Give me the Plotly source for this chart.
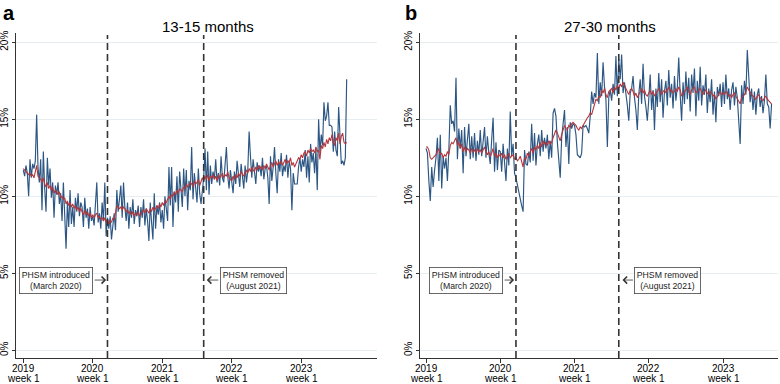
import plotly.graph_objects as go

# ---------------- data ----------------
weeks = list(range(243))                      # weekly index, 2019 week 1 = 0
tick_weeks = [0, 52, 104, 156, 208]
tick_years = ["2019", "2020", "2021", "2022", "2023"]
tick_sub = "week 1"
y_ticks = [0, 5, 10, 15, 20]
y_ticktext = ["0%", "5%", "10%", "15%", "20%"]
phsm_weeks = [63, 135]                        # PHSM introduced / removed

# Panel a: 13-15 months (weekly %, and smoothed %)
a_weekly = [
    11.7, 11.3, 12.0, 11.5, 10.0, 12.4, 11.2, 12.1, 11.8, 12.3, 15.3, 11.9, 10.9,
    12.4, 9.1, 12.9, 10.5, 9.0, 12.5, 10.7, 11.8, 9.9, 10.9, 8.6, 10.7, 10.1,
    10.9, 9.5, 10.2, 8.4, 10.9, 9.0, 6.6, 9.6, 8.0, 10.4, 8.2, 9.3, 8.0,
    9.9, 9.0, 10.2, 8.7, 9.6, 9.3, 8.0, 9.9, 8.6, 9.2, 7.9, 9.3, 8.4,
    8.7, 8.1, 9.4, 10.9, 8.3, 8.9, 7.9, 9.6, 8.4, 10.9, 7.4, 8.6, 7.9,
    8.7, 7.2, 8.3, 8.9, 7.8, 10.4, 9.0, 9.8, 10.7, 8.6, 10.9, 9.3, 8.4,
    9.6, 7.9, 9.3, 8.6, 9.8, 8.2, 9.1, 8.7, 9.4, 8.0, 9.3, 8.6, 9.8,
    8.1, 9.2, 8.4, 7.1, 9.6, 8.3, 7.2, 10.2, 7.9, 9.4, 8.8, 9.6, 8.3,
    9.1, 7.9, 10.0, 9.2, 8.4, 11.9, 9.4, 11.9, 8.0, 10.3, 9.6, 11.3, 9.0,
    11.6, 10.2, 9.3, 11.8, 10.0, 11.7, 9.1, 11.0, 10.4, 13.2, 9.8, 11.5, 10.6,
    9.6, 11.8, 10.2, 9.5, 10.3, 11.2, 13.1, 10.4, 12.9, 10.1, 12.0, 10.8, 11.6,
    11.1, 12.4, 10.9, 11.5, 10.7, 12.6, 11.2, 10.9, 11.8, 13.2, 11.3, 10.5, 11.7,
    11.0, 10.2, 11.6, 10.8, 12.3, 11.4, 10.6, 12.1, 11.1, 10.5, 12.0, 10.9, 11.7,
    14.2, 12.6, 11.2, 12.4, 11.5, 10.8, 12.2, 11.6, 12.0, 11.3, 12.5, 11.1, 11.8,
    12.0, 11.2, 9.5, 12.6, 11.0, 11.9, 13.2, 11.5, 10.2, 12.4, 11.6, 12.8, 11.3,
    12.0, 11.6, 12.7, 11.2, 12.3, 11.8, 9.1, 11.5, 10.8, 10.8, 10.8, 11.9, 12.5,
    11.6, 12.4, 11.9, 13.0, 11.2, 12.6, 10.9, 13.4, 12.2, 12.8, 11.5, 13.1, 10.4,
    15.0, 12.8, 14.0, 13.3, 16.1, 14.9, 15.2, 16.1, 14.6, 14.6, 14.5, 12.9, 14.2,
    13.0, 12.6, 15.8, 13.5, 12.1, 12.3, 12.0, 12.5, 17.6,
]
a_smooth = [
    11.8, 11.7, 11.6, 11.5, 11.4, 11.5, 11.3, 11.4, 11.2, 11.6, 12.0, 11.3, 11.2,
    11.1, 10.9, 11.2, 10.8, 10.6, 10.9, 10.5, 10.7, 10.4, 10.6, 10.2, 10.4, 10.3,
    10.1, 10.3, 9.9, 10.0, 9.8, 9.9, 9.5, 9.7, 9.4, 9.6, 9.3, 9.5, 9.2,
    9.4, 9.1, 9.3, 9.0, 9.2, 9.0, 8.8, 9.1, 8.8, 9.0, 8.7, 8.9, 8.6,
    8.8, 8.6, 8.8, 8.9, 8.6, 8.7, 8.5, 8.6, 8.4, 8.6, 8.3, 8.5, 8.2,
    8.4, 8.3, 8.6, 8.5, 9.0, 9.4, 9.3, 9.2, 9.3, 9.1, 9.3, 9.2, 9.0,
    9.1, 8.9, 9.0, 8.8, 9.0, 8.7, 8.9, 8.8, 9.0, 8.7, 8.9, 9.0, 9.1,
    8.9, 9.2, 9.0, 8.9, 9.2, 9.0, 9.3, 9.1, 9.2, 9.4, 9.2, 9.5, 9.3,
    9.6, 9.4, 9.7, 9.6, 9.8, 10.0, 9.8, 10.1, 10.0, 10.3, 10.1, 10.4, 10.2,
    10.5, 10.4, 10.3, 10.6, 10.5, 10.8, 10.6, 10.7, 10.9, 10.8, 10.6, 11.0, 10.8,
    10.9, 11.1, 10.7, 11.0, 11.2, 11.0, 11.3, 11.1, 11.4, 11.0, 11.3, 11.2, 11.4,
    11.1, 11.3, 11.0, 11.4, 11.2, 11.3, 11.5, 11.2, 11.4, 11.3, 11.6, 11.2, 11.1,
    11.0, 11.3, 11.1, 11.4, 11.2, 11.5, 11.3, 11.6, 11.4, 11.3, 11.5, 11.7, 11.5,
    11.8, 11.6, 11.9, 11.7, 11.6, 11.9, 11.7, 12.0, 11.8, 11.9, 11.7, 12.0, 11.8,
    12.1, 11.9, 11.7, 12.0, 12.2, 11.9, 12.1, 12.3, 12.0, 12.2, 12.1, 12.3, 12.0,
    12.2, 12.4, 12.1, 12.3, 12.2, 12.5, 12.0, 12.2, 11.9, 12.1, 12.3, 12.5, 12.4,
    12.7, 12.5, 12.8, 12.9, 12.6, 13.0, 12.8, 13.1, 12.9, 13.0, 12.8, 13.2, 12.9,
    13.0, 12.4, 13.3, 13.1, 13.5, 13.2, 13.7, 13.4, 13.8, 13.6, 14.0, 13.5, 13.3,
    13.8, 13.6, 14.1, 13.4, 13.9, 14.1, 13.5, 13.4, 13.5,
]

# Panel b: 27-30 months
b_weekly = [
    13.1, 12.8, 11.0, 9.7, 11.9, 10.6, 11.7, 12.5, 13.8, 11.0, 14.0, 10.5, 12.6,
    11.8, 12.5, 11.0, 13.0, 15.9, 14.7, 14.9, 14.2, 17.7, 12.4, 14.4, 13.1, 14.3,
    11.5, 14.5, 12.6, 13.5, 14.7, 12.4, 13.9, 12.5, 14.1, 12.3, 13.6, 12.7, 14.3,
    12.6, 13.6, 14.5, 12.5, 13.9, 12.8, 12.1, 13.7, 15.1, 11.6, 13.5, 11.7, 13.0,
    12.9, 11.6, 13.4, 12.2, 11.0, 13.1, 12.0, 15.5, 12.6, 13.4, 11.5, 11.2, 10.7,
    10.2, 9.7, 9.4, 9.0, 13.0, 12.1, 12.0, 12.9, 12.2, 14.7, 12.3, 14.1, 12.0,
    13.4, 14.0, 12.6, 14.3, 12.9, 13.8, 13.1, 14.0, 12.4, 13.6, 12.5, 15.4, 15.7,
    15.2, 13.5, 12.5, 11.2, 13.8, 14.6, 15.6, 13.2, 14.5, 12.1, 14.8, 14.4, 14.7,
    14.6, 14.0, 12.7, 12.6, 12.5, 12.8, 14.6, 14.5, 14.6, 14.4, 14.1, 15.2, 16.8,
    16.0, 16.7, 16.4, 19.3, 16.0, 17.4, 16.5, 18.7, 17.1, 16.3, 13.2, 16.4, 16.9,
    16.2, 17.3, 16.6, 19.1, 16.5, 18.9, 17.6, 19.2, 16.7, 17.4, 16.8, 15.9, 14.9,
    16.7, 17.0, 17.8, 16.4, 15.6, 14.3, 16.6, 17.6, 16.0, 18.6, 16.5, 15.8, 14.9,
    16.3, 17.9, 15.6, 16.9, 14.3, 17.0, 15.8, 18.0, 16.1, 17.6, 15.1, 16.8, 17.5,
    15.9, 18.2, 16.4, 17.3, 15.7, 17.8, 16.2, 17.1, 19.0, 16.6, 14.9, 17.4, 16.0,
    18.1, 16.3, 17.7, 15.5, 17.9, 16.7, 18.3, 15.2, 17.5, 16.2, 18.4, 15.9, 17.2,
    16.6, 17.9, 15.4, 17.0, 16.1, 17.6, 15.3, 16.8, 14.8, 17.1, 16.5, 17.3, 15.8,
    17.4, 16.0, 17.9, 16.3, 17.0, 15.6, 16.9, 17.4, 15.9, 17.1, 16.4, 15.2, 13.4,
    17.2, 16.0, 17.5, 16.6, 19.5, 17.3, 16.1, 17.0, 15.6, 16.8, 15.3, 16.6, 17.0,
    15.8, 16.5, 15.4, 16.2, 17.9, 16.0, 15.8, 14.4, 16.0,
]
b_smooth = [
    13.2, 13.2, 13.0, 12.5, 12.4, 12.5, 12.6, 12.7, 12.9, 13.1, 12.7, 12.8, 12.5,
    12.7, 12.6, 12.9, 12.7, 13.3, 13.5, 13.4, 13.6, 13.8, 13.3, 13.5, 13.1, 13.4,
    12.9, 13.2, 12.9, 13.1, 13.0, 12.8, 13.1, 12.9, 13.0, 12.8, 13.1, 12.9, 13.0,
    12.8, 13.0, 13.2, 12.9, 12.7, 12.9, 12.6, 12.8, 13.1, 12.6, 12.8, 12.5, 12.7,
    12.6, 12.8, 12.5, 12.7, 12.4, 12.6, 12.8, 12.5, 12.6, 12.7, 12.4, 12.5, 12.3,
    12.4, 12.6, 12.3, 11.9, 12.5, 12.4, 12.8, 12.6, 12.9, 13.1, 12.8, 13.2, 13.0,
    13.3, 13.1, 13.5, 13.2, 13.6, 13.4, 13.5, 13.3, 13.6, 13.4, 13.5, 13.8, 14.0,
    14.3, 14.1, 13.9, 13.6, 14.0, 14.3, 14.6, 14.4, 14.3, 14.6, 14.5, 14.7, 14.8,
    14.7, 14.6, 14.4, 14.3, 14.5, 14.4, 14.6, 14.8, 15.0, 15.1, 15.2, 15.4, 15.3,
    15.6, 16.0, 16.3, 16.2, 16.5, 16.4, 16.9, 16.7, 17.0, 16.6, 16.4, 16.8, 16.9,
    17.0, 16.7, 17.1, 16.9, 17.2, 17.0, 17.3, 17.1, 17.4, 17.2, 17.0, 16.8, 16.6,
    16.9, 17.0, 16.8, 16.5, 16.7, 16.4, 16.6, 16.8, 17.0, 16.7, 16.9, 16.6, 16.5,
    16.7, 16.9, 16.6, 16.8, 16.5, 16.7, 16.9, 17.0, 16.8, 16.6, 16.8, 16.9, 16.7,
    16.9, 17.1, 16.8, 16.9, 16.7, 16.8, 17.0, 16.8, 17.1, 16.9, 16.5, 16.7, 16.8,
    16.9, 17.1, 16.8, 16.6, 16.9, 17.0, 17.1, 16.7, 16.8, 16.9, 17.0, 16.8, 16.6,
    16.8, 16.9, 16.7, 16.6, 16.8, 16.7, 16.5, 16.6, 16.3, 16.5, 16.7, 16.8, 16.6,
    16.7, 16.6, 16.8, 16.7, 16.5, 16.6, 16.4, 16.6, 16.7, 16.5, 16.3, 16.2, 16.0,
    16.4, 16.5, 16.6, 16.8, 17.1, 16.9, 16.7, 16.6, 16.5, 16.4, 16.3, 16.5, 16.6,
    16.4, 16.3, 16.2, 16.4, 16.5, 16.3, 16.2, 16.1, 16.0,
]

panel_titles = ["13-15 months", "27-30 months"]
panel_letters = ["a", "b"]
box_texts = ["PHSM introduced<br>(March 2020)", "PHSM removed<br>(August 2021)"]

# ---------------- styling ----------------
FONT = "Liberation Sans, Arial, Helvetica, sans-serif"
NAVY = "#2c5683"
RED = "#b3373d"
AXIS = "#333333"
GRID = "#e6eef2"

fig = go.Figure()
panels = [("x", "y", a_weekly, a_smooth), ("x2", "y2", b_weekly, b_smooth)]
for xa, ya, wk, sm in panels:
    fig.add_trace(go.Scatter(x=weeks, y=wk, mode="lines", xaxis=xa, yaxis=ya,
                             line=dict(color=NAVY, width=1.15), showlegend=False, hoverinfo="skip"))
    fig.add_trace(go.Scatter(x=weeks, y=sm, mode="lines", xaxis=xa, yaxis=ya,
                             line=dict(color=RED, width=1.1), showlegend=False, hoverinfo="skip"))

W, H = 780, 384
xdom = [[16 / W, 377 / W], [420 / W, 778 / W]]
ydom = [(H - 358) / H, (H - 33) / H]
xranges = [[-5.46, 264.7], [-4.2, 246.5]]

common_x = dict(tickvals=tick_weeks, ticktext=tick_years, showticklabels=False, showgrid=False,
                zeroline=False, showline=True, linecolor=AXIS, linewidth=1, ticks="outside",
                ticklen=4, tickcolor=AXIS, tickwidth=1, automargin=False, fixedrange=True)
common_y = dict(tickvals=y_ticks, ticktext=y_ticktext, range=[-0.5, 20.6], showgrid=True,
                gridcolor=GRID, gridwidth=1, zeroline=False, showline=True, linecolor=AXIS,
                linewidth=1, ticks="outside", ticklen=3, tickcolor=AXIS, tickangle=-90,
                tickfont=dict(family=FONT, size=10, color="black"), automargin=False,
                domain=ydom, fixedrange=True)

fig.update_layout(
    width=W, height=H, margin=dict(l=0, r=0, t=0, b=0),
    paper_bgcolor="white", plot_bgcolor="white",
    font=dict(family=FONT, color="black"),
    xaxis=dict(common_x, domain=xdom[0], range=xranges[0], anchor="y"),
    yaxis=dict(common_y, anchor="x"),
    xaxis2=dict(common_x, domain=xdom[1], range=xranges[1], anchor="y2"),
    yaxis2=dict(common_y, anchor="x2"),
)

shapes = []
annotations = []
axis_ids = [("x", "y"), ("x2", "y2")]
title_x = [208 / W, 610 / W]
letter_x = [9 / W, 411 / W]
# annotation geometry per panel: arrow head week, tail offset (px), box anchor week
arrow_heads = [[62.0, 137.3], [61.7, 137.6]]
arrow_offsets = [[-13, 13], [-11, 12]]
box_weeks = [[52.4, 147.2], [54.2, 146.0]]
box_anchor = ["right", "left"]
label_level = 4.56

for p, (xa, ya) in enumerate(axis_ids):
    for wk in phsm_weeks:
        shapes.append(dict(type="line", xref=xa, yref=f"{ya} domain", x0=wk, x1=wk, y0=0, y1=0.994,
                           line=dict(color=AXIS, width=1.6, dash="7px,4px")))
    for t, yr in zip(tick_weeks, tick_years):
        annotations.append(dict(xref=xa, yref="paper", x=t, y=(H - 368.5) / H, text=yr,
                                showarrow=False, xanchor="center", yanchor="middle",
                                font=dict(family=FONT, size=10, color="black")))
        annotations.append(dict(xref=xa, yref="paper", x=t, y=(H - 378.5) / H, text=tick_sub,
                                showarrow=False, xanchor="center", yanchor="middle",
                                font=dict(family=FONT, size=10, color="black")))
    annotations.append(dict(xref="paper", yref="paper", x=title_x[p], y=(H - 26) / H,
                            text=panel_titles[p], showarrow=False, xanchor="center", yanchor="middle",
                            font=dict(family=FONT, size=15, color="black")))
    annotations.append(dict(xref="paper", yref="paper", x=letter_x[p], y=1.0,
                            text=f"<b>{panel_letters[p]}</b>", showarrow=False, xanchor="center",
                            yanchor="top", font=dict(family=FONT, size=20, color="black")))
    for k in range(2):
        annotations.append(dict(xref=xa, yref=ya, x=arrow_heads[p][k], y=label_level, text="",
                                showarrow=True, ax=arrow_offsets[p][k], ay=0, arrowhead=4,
                                arrowsize=1.7, arrowwidth=0.8, arrowcolor=AXIS))
        annotations.append(dict(xref=xa, yref=ya, x=box_weeks[p][k], y=label_level, text=box_texts[k],
                                showarrow=False, xanchor=box_anchor[k], yanchor="middle",
                                font=dict(family=FONT, size=8.7, color="#222"),
                                bordercolor="#444", borderwidth=0.8, borderpad=2, bgcolor="white"))

fig.update_layout(shapes=shapes, annotations=annotations)
fig.write_html("out.html")
